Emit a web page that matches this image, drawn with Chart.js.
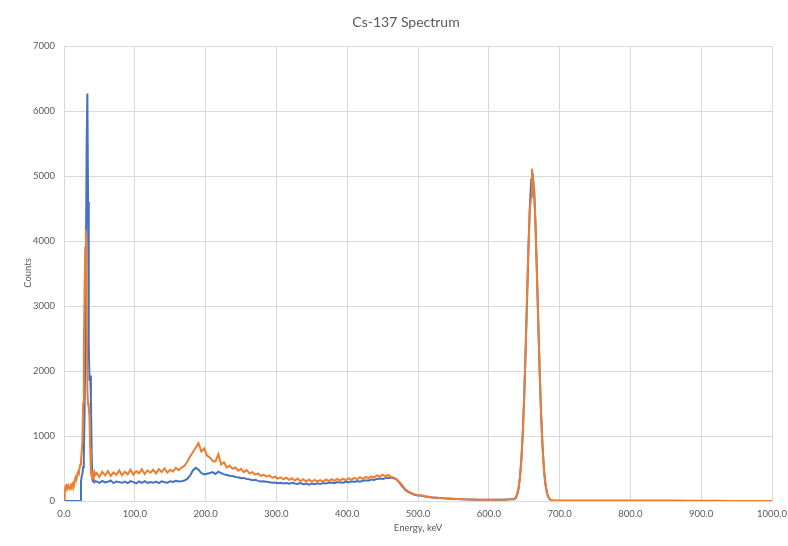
<!DOCTYPE html>
<html>
<head>
<meta charset="utf-8">
<title>Cs-137 Spectrum</title>
<script src="https://cdn.jsdelivr.net/npm/chart.js@4.4.0/dist/chart.umd.min.js"></script>
<style>
  html, body { margin: 0; padding: 0; background: #ffffff; }
  #wrap { width: 788px; height: 546px; position: relative; }
</style>
</head>
<body>
<div id="wrap"><canvas id="spectrum" width="788" height="546"></canvas></div>
<script>
// Channel energies (keV): fine near the X-ray peak and photopeak, coarser elsewhere
const energyKeV = [
  0,1,2,3,4,5,6,7,8,9,
  10,11,12,13,14,15,16,17,18,19,
  20,21,22,23,24,25,26,27,28,29,
  30,31,32,33,34,35,36,37,38,39,
  40,41,42,43,44,
  46,50,54,58,62,66,70,74,78,82,
  86,90,94,98,102,106,110,114,118,122,
  126,130,134,138,142,146,150,154,158,162,
  166,170,174,178,182,186,190,194,198,202,
  206,210,214,218,222,226,230,234,238,242,
  246,250,254,258,262,266,270,274,278,282,
  286,290,294,298,302,306,310,314,318,322,
  326,330,334,338,342,346,350,354,358,362,
  366,370,374,378,382,386,390,394,398,402,
  406,410,414,418,422,426,430,434,438,442,
  446,450,454,458,462,466,470,474,478,482,
  486,490,494,498,
  505,510,515,520,525,530,535,540,545,550,
  555,560,565,570,575,580,585,590,595,600,
  605,610,615,620,625,630,
  634,636,638,640,642,644,646,648,650,652,
  654,656,658,660,661,662,664,666,668,670,
  672,674,676,678,680,682,684,686,688,690,
  695,700,720,740,760,780,800,820,840,860,
  880,900,920,940,960,980,1000
];

// Counts per channel, first measurement (blue)
const countsRunA = [
  0,0,0,0,0,0,0,0,0,0,
  0,0,0,0,0,0,0,0,0,0,
  0,0,0,0,300,380,420,520,700,1300,
  2300,3800,5500,6270,4600,2400,1850,1930,1600,800,
  330,300,310,290,305,
  300,280,310,285,295,315,275,300,290,280,
  300,275,305,290,270,300,280,305,278,292,
  282,298,276,302,288,282,302,292,312,300,
  302,315,340,390,470,510,480,430,410,420,
  430,445,415,450,430,410,400,390,385,370,
  365,350,355,340,335,320,325,310,300,305,
  295,290,280,285,275,280,270,275,265,280,
  270,262,277,258,270,252,267,258,272,263,
  277,268,282,285,273,292,283,280,297,288,
  302,293,307,298,312,320,313,332,323,340,
  347,338,352,355,362,350,330,280,220,170,
  140,120,100,90,
  80,70,62,55,50,46,42,38,35,32,
  30,28,26,24,22,21,20,19,19,18,
  18,18,19,20,22,25,
  30,28,45,90,185,355,630,1040,1600,2310,
  3100,3890,4540,4950,5050,5030,4780,4240,3500,2700,
  1940,1300,820,480,260,135,65,30,12,6,
  4,3,3,2,3,2,2,3,2,2,
  2,1,2,1,1,1,1
];

// Counts per channel, second measurement (orange)
const countsRunB = [
  0,120,220,240,210,230,200,215,190,220,
  250,230,260,280,260,310,350,380,370,420,
  450,430,500,560,620,750,900,1500,2300,3200,
  3900,4170,3000,1700,1500,1420,1300,800,450,380,
  360,420,380,440,400,
  430,370,450,395,460,385,440,405,470,395,
  450,410,480,405,460,425,490,415,470,435,
  480,425,490,445,500,435,480,455,510,475,
  515,540,600,680,750,820,890,760,810,700,
  670,615,610,720,560,595,515,545,495,515,
  465,495,445,475,425,445,405,425,385,405,
  375,395,355,375,345,365,335,360,325,350,
  315,345,305,335,300,330,295,325,300,320,
  295,330,305,335,310,340,315,345,320,350,
  325,355,335,365,340,370,350,380,360,395,
  375,405,380,400,370,360,330,290,240,180,
  150,125,105,95,
  85,72,66,58,52,48,45,40,37,34,
  31,29,27,25,24,22,21,20,20,19,
  19,19,20,21,23,27,
  32,35,55,105,200,370,650,1060,1620,2330,
  3120,3900,4500,4680,5110,4960,4800,4230,3480,2690,
  1930,1300,815,475,255,130,62,28,12,6,
  4,4,3,3,2,3,2,2,2,2,
  1,2,1,1,1,1,1
];

const xTicks = [0, 100, 200, 300, 400, 500, 600, 700, 800, 900, 1000];
const yTicks = [0, 1000, 2000, 3000, 4000, 5000, 6000, 7000];

const chartTitle = 'Cs-137 Spectrum';
const xTitle = 'Energy, keV';
const yTitle = 'Counts';

const textGray = '#595959';
const gridGray = '#D9D9D9';
const uiFont = 'Lato, "Liberation Sans", sans-serif';

const toPoints = (ys) => energyKeV.map((e, i) => ({ x: e, y: ys[i] }));

// Title and axis titles placed around the plot area
const titlesPlugin = {
  id: 'titles',
  afterDraw(chart) {
    const { ctx, chartArea } = chart;
    const cx = (chartArea.left + chartArea.right) / 2;
    ctx.save();
    ctx.fillStyle = textGray;
    ctx.textAlign = 'center';
    ctx.textBaseline = 'middle';
    ctx.font = '14px ' + uiFont;
    ctx.fillText(chartTitle, 406, 22);
    ctx.font = '9.5px ' + uiFont;
    ctx.fillText(xTitle, cx, 528);
    ctx.translate(28, 273);
    ctx.rotate(-Math.PI / 2);
    ctx.fillText(yTitle, 0, 0);
    ctx.restore();
  }
};

new Chart(document.getElementById('spectrum'), {
  type: 'line',
  data: {
    datasets: [
      {
        label: 'Run A',
        data: toPoints(countsRunA),
        borderColor: '#4472C4',
        borderWidth: 2,
        pointRadius: 0,
        tension: 0,
        order: 2
      },
      {
        label: 'Run B',
        data: toPoints(countsRunB),
        borderColor: '#ED7D31',
        borderWidth: 2,
        pointRadius: 0,
        tension: 0,
        order: 1
      }
    ]
  },
  options: {
    responsive: false,
    animation: false,
    layout: { padding: { top: 46, right: 16, bottom: 0, left: 0 } },
    plugins: {
      legend: { display: false },
      title: { display: false },
      tooltip: { enabled: false }
    },
    scales: {
      x: {
        type: 'linear',
        min: 0,
        max: 1000,
        afterBuildTicks(scale) { scale.ticks = xTicks.map(v => ({ value: v })); },
        afterFit(scale) {
          scale.height = 45;
          scale.paddingLeft = 0;
          scale.paddingRight = 0;
        },
        ticks: {
          color: textGray,
          font: { family: uiFont, size: 9.5 },
          padding: 7,
          maxRotation: 0,
          callback: (v) => Number(v).toFixed(1)
        },
        grid: { color: gridGray, lineWidth: 1, drawTicks: false },
        border: { color: gridGray }
      },
      y: {
        type: 'linear',
        min: 0,
        max: 7000,
        afterBuildTicks(scale) { scale.ticks = yTicks.map(v => ({ value: v })); },
        afterFit(scale) {
          scale.width = 64;
          scale.paddingTop = 0;
          scale.paddingBottom = 0;
        },
        ticks: {
          color: textGray,
          font: { family: uiFont, size: 9.5 },
          padding: 9,
          callback: (v) => String(v)
        },
        grid: { color: gridGray, lineWidth: 1, drawTicks: false },
        border: { color: gridGray }
      }
    }
  },
  plugins: [titlesPlugin]
});
</script>
</body>
</html>
